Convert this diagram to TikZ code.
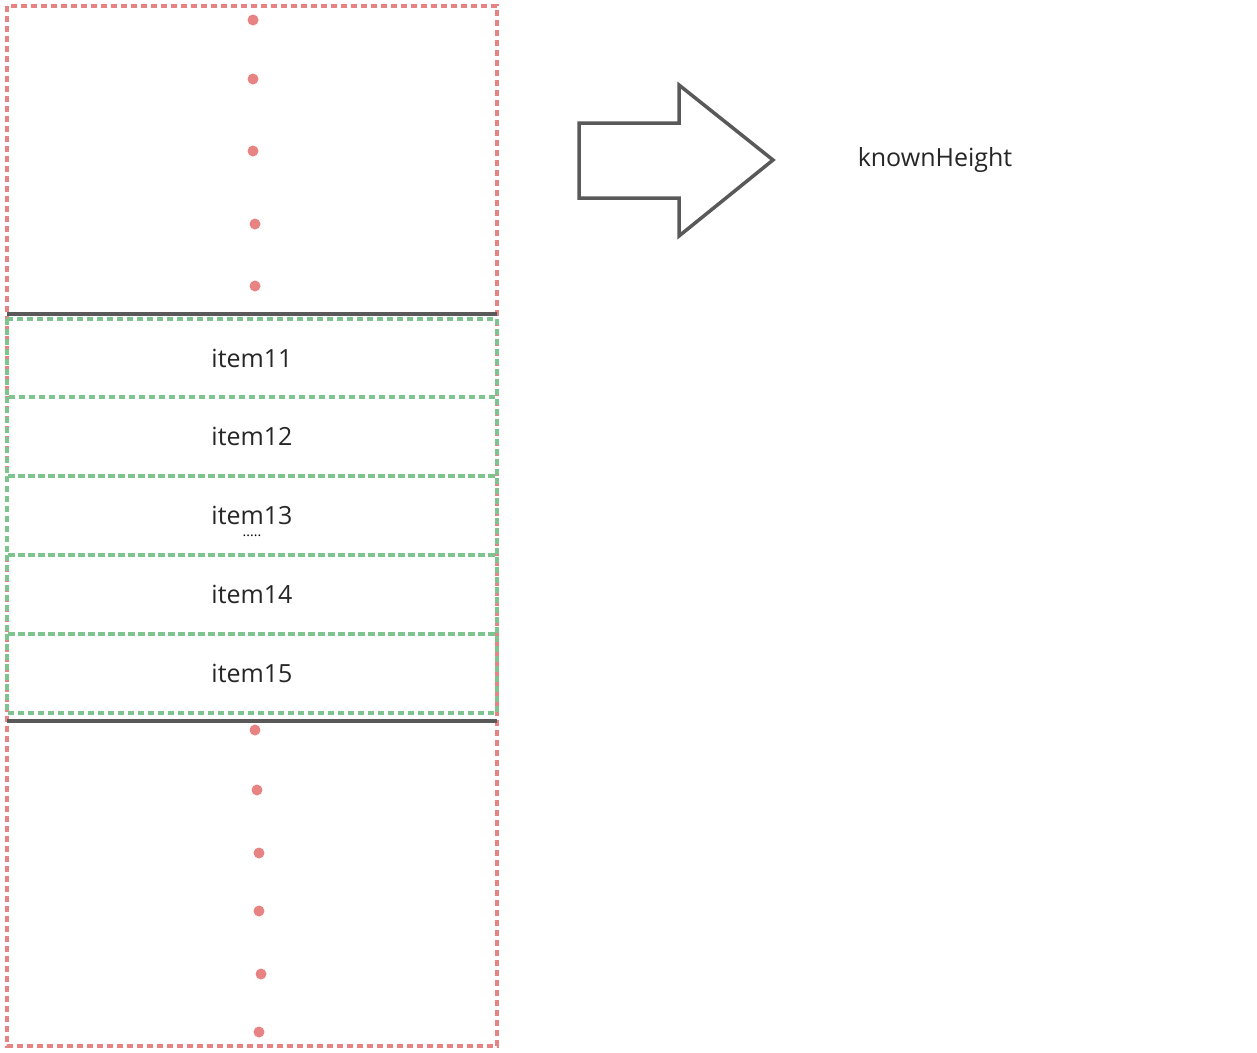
\documentclass[tikz,border=0pt]{standalone}
\usepackage{fontspec}
\setmainfont{Open Sans}
\definecolor{rd}{HTML}{E88383}
\definecolor{gr}{HTML}{7DC48F}
\definecolor{dk}{HTML}{595959}
\tikzset{
  reddash/.style={draw=rd,line width=3.5pt,dash pattern=on 6pt off 4pt},
  greenbox/.style={draw=gr,line width=3.5pt,dash pattern=on 6pt off 4pt},
  solidline/.style={draw=dk,line width=3.5pt},
  dotmark/.style={circle,fill=rd,inner sep=0pt,minimum size=11pt},
  lbl/.style={font=\fontsize{25}{28}\selectfont,text=black!85}
}
\begin{document}
\begin{tikzpicture}[x=1pt,y=-1pt]
\useasboundingbox (0,0) rectangle (1257,1052);
\draw[reddash] (7,6) rectangle (497,1046);
\foreach \a/\b [count=\i] in {319/397,397/476,476/555,555/634,634/713}{
  \draw[greenbox] (7,\a) rectangle (497,\b);
  \node[lbl] (it\i) at (252,{(\a+\b)/2}) {item1\pgfmathparse{int(\i)}\pgfmathresult};
}
\node[font=\fontsize{14}{14}\selectfont,inner sep=0pt] (dd) at (252,536) {.....};
\draw[solidline] (7,314) coordinate (t1) -- (497,314) coordinate (t2);
\draw[solidline] (7,721) coordinate (b1) -- (497,721) coordinate (b2);
\foreach \x/\y [count=\i] in {253/20,253/79,253/151,255/224,255/286,255/730,257/790,259/853,259/911,261/974,259/1032}
  \node[dotmark] (d\i) at (\x,\y) {};
\draw[solidline,line join=miter] (579,123) -- (679,123) -- (679,85) -- (773,160) -- (679,236) -- (679,198) -- (579,198) -- cycle;
\node[lbl] (kh) at (935,160) {knownHeight};
\end{tikzpicture}
\end{document}
